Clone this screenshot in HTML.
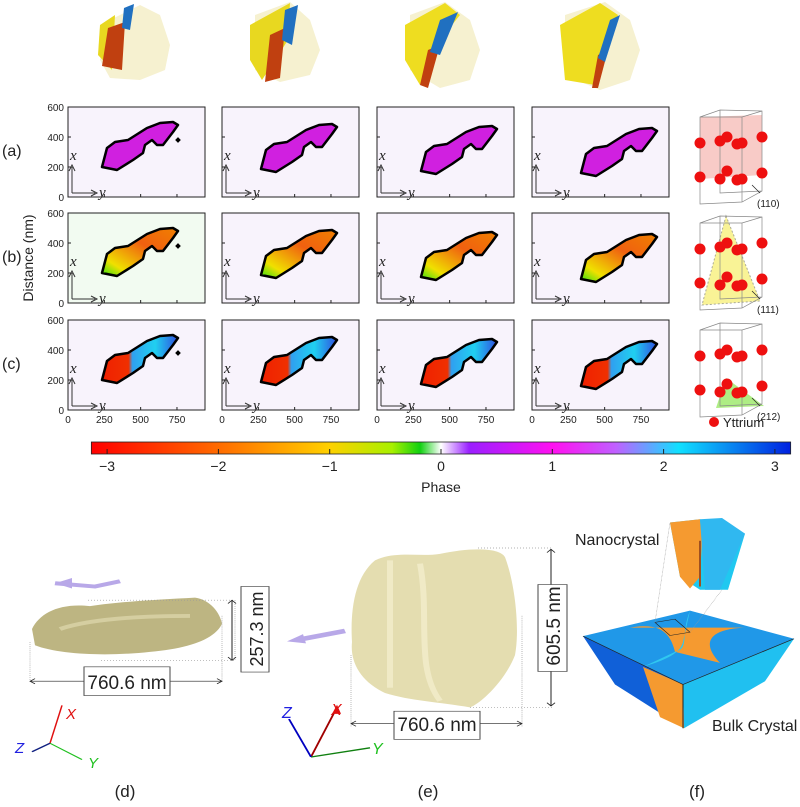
<!DOCTYPE html>
<html><head><meta charset="utf-8"><style>
body{margin:0;background:#fff;width:800px;height:802px;overflow:hidden;font-family:"Liberation Sans",sans-serif}
svg text{font-family:"Liberation Sans",sans-serif}
.it{font-family:"Liberation Serif",serif;font-style:italic}
</style></head><body>
<svg id="fig" width="800" height="802" viewBox="0 0 800 802" xmlns="http://www.w3.org/2000/svg">
<defs>
<linearGradient id="cbar" x1="0" x2="1">
<stop offset="0" stop-color="#ff0000"/><stop offset="0.18" stop-color="#ff6a00"/><stop offset="0.34" stop-color="#ffd000"/><stop offset="0.43" stop-color="#a8f000"/><stop offset="0.47" stop-color="#10d010"/><stop offset="0.5" stop-color="#ffffff"/><stop offset="0.54" stop-color="#9a20ff"/><stop offset="0.66" stop-color="#ff10f0"/><stop offset="0.75" stop-color="#c060ff"/><stop offset="0.84" stop-color="#10e0ff"/><stop offset="1" stop-color="#0020e0"/>
</linearGradient>
<linearGradient id="gb" x1="0" x2="1" y1="1" y2="0"><stop offset="0" stop-color="#30e010"/><stop offset="0.2" stop-color="#f0e000"/><stop offset="0.6" stop-color="#f06010"/><stop offset="1" stop-color="#f08000"/></linearGradient>
<linearGradient id="gc" x1="0" x2="1"><stop offset="0" stop-color="#f02000"/><stop offset="0.35" stop-color="#f03000"/><stop offset="0.4" stop-color="#30a0f0"/><stop offset="0.7" stop-color="#20d0f0"/><stop offset="1" stop-color="#3050e0"/></linearGradient>
</defs>
<g id="grid"></g>
<g id="crystals"></g>
<g id="cb"></g>
</svg>
<script>
const NS='http://www.w3.org/2000/svg';
function el(tag,attrs,parent,txt){const e=document.createElementNS(NS,tag);for(const k in attrs)e.setAttribute(k,attrs[k]);if(txt!==undefined)e.textContent=txt;parent.appendChild(e);return e;}
const xTicks=[0,250,500,750];
const yTicks=[0,200,400,600];
const rowLabels=['(a)','(b)','(c)'];
const cbTicks=[-3,-2,-1,0,1,2,3];
const cbLabels=['\u22123','\u22122','\u22121','0','1','2','3'];
const planeLabels=['(110)','(111)','(212)'];
const colX=[68,222,377,532];const rowY=[107,213,320];const PW=137,PH=90;
const xs=v=>v*0.1453; const ys=v=>PH-v*0.15;
const blob=[[34,60],[39,41],[47,35],[60,33],[79,21],[92,16],[105,15],[110,18],[105,25],[95,38],[89,38],[84,33],[77,38],[75,46],[65,53],[49,63],[39,61]];
const fills=['#d020e0','url(#gb)','url(#gc)'];
const grid=document.getElementById('grid');
for(let r=0;r<3;r++){for(let c=0;c<4;c++){
 const g=el('g',{transform:`translate(${colX[c]},${rowY[r]})`},grid);
 
 
 el('rect',{x:0,y:0,width:PW,height:PH,fill:c==0&&r==1?'#f2fbf1':'#f8f3fc',stroke:'#222','stroke-width':1},g);
 const dx=c*5, dy=c*2;
 const pts=blob.map(p=>`${p[0]+dx},${p[1]+dy}`).join(' ');
 const b=el('polygon',{points:pts,fill:fills[r],stroke:'#000','stroke-width':2.5,'stroke-linejoin':'round'},g);
 
 
 if(c==0)el('rect',{x:108,y:31,width:4,height:4,fill:'#000',transform:'rotate(45 110 33)'},g);
 for(const t of xTicks){el('line',{x1:xs(t),x2:xs(t),y1:PH,y2:PH-3,stroke:'#222'},g);}
 for(const t of yTicks){el('line',{x1:0,x2:3,y1:ys(t),y2:ys(t),stroke:'#222'},g);
  if(c==0){const tl=el('text',{x:-4,y:ys(t)+4,'font-size':10,'text-anchor':'end',fill:'#222'},g,t);}}
 if(r==2){for(const t of xTicks){const tl=el('text',{x:xs(t),y:PH+13,'font-size':10,'text-anchor':'middle',fill:'#222'},g,t);}}
 el('path',{d:'M4,86 V60 M1,64 L4,58 L7,64 M4,86 H27 M23,83 L29,86 L23,89',stroke:'#333',fill:'none','stroke-width':1},g);
 el('text',{x:2,y:53,'font-size':15,class:'it',fill:'#222'},g,'x');
 el('text',{x:31,y:90,'font-size':15,class:'it',fill:'#222'},g,'y');
}
 const rl=el('text',{x:2,y:rowY[r]+49,'font-size':16,fill:'#222'},grid,rowLabels[r]);
 
}
const yt=el('text',{x:0,y:0,'font-size':14,fill:'#222','text-anchor':'middle',transform:'translate(33,258) rotate(-90)'},grid,'Distance (nm)');

const cr=document.getElementById('crystals');
const planeFill=['rgba(240,140,130,0.45)','rgba(245,235,80,0.6)','rgba(140,230,80,0.7)'];
for(let r=0;r<3;r++){const y0=rowY[r];const g=el('g',{},cr);
 
 if(r==0)el('polygon',{points:`700,${y0+10} 762,${y0+8} 762,${y0+68} 700,${y0+72}`,fill:planeFill[0]},g);
 if(r==1)el('polygon',{points:`726,${y0+3} 702,${y0+92} 760,${y0+88}`,fill:planeFill[1],stroke:'#aa9',"stroke-dasharray":'2 2'},g);
 if(r==2)el('polygon',{points:`726,${y0+58} 716,${y0+88} 764,${y0+86}`,fill:planeFill[2]},g);
 el('path',{d:`M700,${y0+10} L720,${y0+3} L762,${y0+4} L762,${y0+84} L742,${y0+95} L700,${y0+97} Z M700,${y0+10} L742,${y0+10} L762,${y0+4} M742,${y0+10} V${y0+95} M720,${y0+3} V${y0+86} L762,${y0+84}`,fill:'none',stroke:'#888','stroke-width':0.7},g);
 const pts=[[700,y0+42],[720,y0+40],[737,y0+43],[742,y0+42],[762,y0+36],[727,y0+36],[700,y0+76],[720,y0+78],[737,y0+79],[742,y0+78],[762,y0+72],[727,y0+70]];
 for(const p of pts)el('circle',{cx:p[0],cy:p[1]-6,r:5.5,fill:'#ee1010'},g);
 el('path',{d:`M752,${y0+78} L760,${y0+86}`,stroke:'#222','stroke-width':0.7},g);
 el('text',{x:757,y:y0+100,'font-size':10,fill:'#222','font-family':'Liberation Mono'},g,planeLabels[r]);
}
el('circle',{cx:714,cy:422,r:5,fill:'#ee1010'},cr);
const yl=el('text',{x:723,y:427,'font-size':13,fill:'#222'},cr,'Yttrium');
const cb=document.getElementById('cb');const cx=v=>441+v*111.3;
const bar=el('rect',{x:cx(-Math.PI),y:442,width:cx(Math.PI)-cx(-Math.PI),height:12,fill:'url(#cbar)',stroke:'#222','stroke-width':0.8},cb);

cbTicks.forEach((t,i)=>{el('line',{x1:cx(t),x2:cx(t),y1:454,y2:449,stroke:'#222'},cb);
 const tl=el('text',{x:cx(t),y:471,'font-size':14,'text-anchor':'middle',fill:'#222','font-family':'Liberation Serif'},cb,cbLabels[i]);});
const ph=el('text',{x:441,y:492,'font-size':14,'text-anchor':'middle',fill:'#222'},cb,'Phase');
</script>
<svg width="800" height="802" style="position:absolute;left:0;top:0" xmlns="http://www.w3.org/2000/svg">
<g>
<g><path d="M110,20 L140,5 L160,15 L170,45 L165,70 L140,80 L110,78 L100,60 Z" fill="#f6f1d0"/><path d="M100,25 L115,15 L112,70 L98,55 Z" fill="#e8d820"/><path d="M108,28 L125,22 L122,70 L102,66 Z" fill="#c04010"/><path d="M124,8 L134,4 L130,30 L122,28 Z" fill="#2070c0"/></g>
<g><path d="M255,15 L290,2 L310,20 L320,50 L310,75 L280,82 L255,70 Z" fill="#f6f1d0"/><path d="M250,25 L290,3 L288,40 L262,80 L250,60 Z" fill="#e8d820"/><path d="M270,35 L285,28 L280,78 L265,82 Z" fill="#c04010"/><path d="M285,10 L298,5 L292,45 L282,40 Z" fill="#2070c0"/></g>
<g><path d="M410,15 L445,2 L470,20 L480,50 L470,80 L440,88 L410,70 Z" fill="#f6f1d0"/><path d="M405,25 L445,3 L460,15 L440,40 L420,85 L405,60 Z" fill="#eedd20"/><path d="M428,50 L440,45 L428,88 L420,85 Z" fill="#c04010"/><path d="M440,20 L458,12 L440,55 L430,52 Z" fill="#2070c0"/></g>
<g><path d="M565,15 L605,2 L630,20 L640,50 L630,80 L600,90 L565,75 Z" fill="#f6f1d0"/><path d="M560,25 L600,3 L618,15 L605,50 L595,85 L565,80 Z" fill="#eedd20"/><path d="M598,55 L608,50 L598,88 L592,88 Z" fill="#c04010"/><path d="M610,20 L620,15 L605,62 L598,58 Z" fill="#2070c0"/></g>
</g>
<g transform="translate(0,420) scale(1,0.653)">
<g>
<path d="M55,250 L95,255 L120,247" stroke="#b8a8e8" stroke-width="6" fill="none"/><polygon points="55,250 72,242 72,258" fill="#b8a8e8"/>
<path d="M32,320 C40,295 60,280 90,285 C120,278 160,275 195,272 C210,275 220,295 222,312 C215,335 190,350 150,355 C110,362 60,360 35,345 Z" fill="#bdb582"/>
<path d="M60,320 C90,305 140,300 190,300" stroke="#e5e0b5" stroke-width="6" fill="none" opacity="0.6"/>
<path d="M88,276 H235 V368 H100 M30,340 V400 M222,300 V400" stroke="#999" stroke-dasharray="1 2" fill="none"/>
<path d="M232,277 V367 M228,281 L232,276 L236,281 M228,363 L232,368 L236,363" stroke="#222" fill="none"/>
<rect x="241" y="255" width="28" height="131" fill="#fff" stroke="#444"/>
<path d="M30,400 H222 M35,396 L30,400 L35,404 M217,396 L222,400 L217,404" stroke="#222" fill="none"/>
<rect x="84" y="378" width="86" height="44" fill="#fff" stroke="#444"/>
<path d="M50,495 L62,437" stroke="#e01010" stroke-width="1.5"/>
<path d="M50,495 L82,520" stroke="#20c020" stroke-width="1.5"/>
<path d="M50,495 L32,508" stroke="#102080" stroke-width="2"/>
</g>
<g>
<path d="M300,336 L345,323" stroke="#b8a8e8" stroke-width="7"/><polygon points="287,339 303,328 306,342" fill="#b8a8e8"/>
<path d="M375,215 C395,200 420,210 440,205 C470,195 500,195 505,210 C515,250 520,320 515,360 C505,400 480,435 470,440 C440,432 410,430 385,418 C360,400 350,370 352,340 C350,290 355,240 375,215 Z" fill="#e4ddb0"/>
<path d="M390,215 V410 M420,220 C430,300 415,380 440,430" stroke="#f5f0d0" stroke-width="6" fill="none" opacity="0.7"/>
<path d="M478,196 H553 M470,440 H553 M351,360 V470 M522,300 V470" stroke="#999" stroke-dasharray="1 2" fill="none"/>
<path d="M551,198 V438 M547,203 L551,198 L555,203 M547,433 L551,438 L555,433" stroke="#222" fill="none"/>
<rect x="538" y="252" width="29" height="133" fill="#fff" stroke="#444"/>
<path d="M351,465 H522 M356,461 L351,465 L356,469 M517,461 L522,465 L517,469" stroke="#222" fill="none"/>
<rect x="394" y="446" width="86" height="43" fill="#fff" stroke="#444"/>
<path d="M311,516 L337,440" stroke="#a00000" stroke-width="2"/><polygon points="337,436 332,450 341,450" fill="#e01010"/>
<path d="M311,516 L370,502" stroke="#108010" stroke-width="2"/>
<path d="M311,516 L289,458" stroke="#0000c0" stroke-width="2"/>
</g>
<g>
<polygon points="670,157 700,152 745,174 728,260 700,260 680,240" fill="#20c8f0"/>
<polygon points="670,157 700,152 702,185 700,240 690,258 680,240" fill="#f59a30"/>
<polygon points="700,152 722,150 745,174 720,260 705,260" fill="#30b8f0"/>
<path d="M700,185 L700,255" stroke="#a05020" stroke-width="2"/>
<polygon points="583,331 690,292 794,335 683,405" fill="#2098e8"/>
<path d="M630,318 C660,310 670,325 675,355 L720,372 C700,340 710,320 745,318 Z" fill="#f59a30"/>
<path d="M690,292 C680,330 690,350 675,355 L643,378 C660,370 680,360 683,340 Z" fill="#30c8f0"/>
<polygon points="583,331 683,405 684,472 615,405" fill="#1060d8"/>
<polygon points="683,405 794,335 765,400 684,472" fill="#20c0f0"/>
<polygon points="643,378 683,405 684,472 660,455" fill="#f59a30"/>
<path d="M583,331 L683,405 L794,335 M683,405 V472" stroke="#222" fill="none"/>
<path d="M655,310 L675,305 L690,325 L670,330 Z" stroke="#222" fill="none" stroke-width="0.8"/>
<path d="M655,310 L670,157 M690,325 L722,260" stroke="#999" stroke-width="0.6" stroke-dasharray="1 1"/>
</g>
</g>
<g>
<text transform="translate(263,629) rotate(-90)" font-size="18" text-anchor="middle" fill="#222">257.3 nm</text>
<text x="127" y="689" font-size="19" text-anchor="middle" fill="#222">760.6 nm</text>
<text x="66" y="719" font-size="15" fill="#e01010" font-style="italic">X</text>
<text x="88" y="768" font-size="15" fill="#20c020" font-style="italic">Y</text>
<text x="15" y="753" font-size="15" fill="#2020e0" font-style="italic">Z</text>
<text x="125" y="797" font-size="17" text-anchor="middle" fill="#222">(d)</text>
<text transform="translate(560,626) rotate(-90)" font-size="19" text-anchor="middle" fill="#222">605.5 nm</text>
<text x="437" y="731" font-size="19" text-anchor="middle" fill="#222">760.6 nm</text>
<text x="331" y="715" font-size="16" fill="#e01010" font-style="italic">X</text>
<text x="372" y="754" font-size="16" fill="#20c020" font-style="italic">Y</text>
<text x="282" y="718" font-size="16" fill="#2020e0" font-style="italic">Z</text>
<text x="428" y="797" font-size="17" text-anchor="middle" fill="#222">(e)</text>
<text x="575" y="545" font-size="16" fill="#222">Nanocrystal</text>
<text x="712" y="731" font-size="16" fill="#222">Bulk Crystal</text>
<text x="697" y="797" font-size="17" text-anchor="middle" fill="#222">(f)</text>
</g>
</svg>
</body></html>
